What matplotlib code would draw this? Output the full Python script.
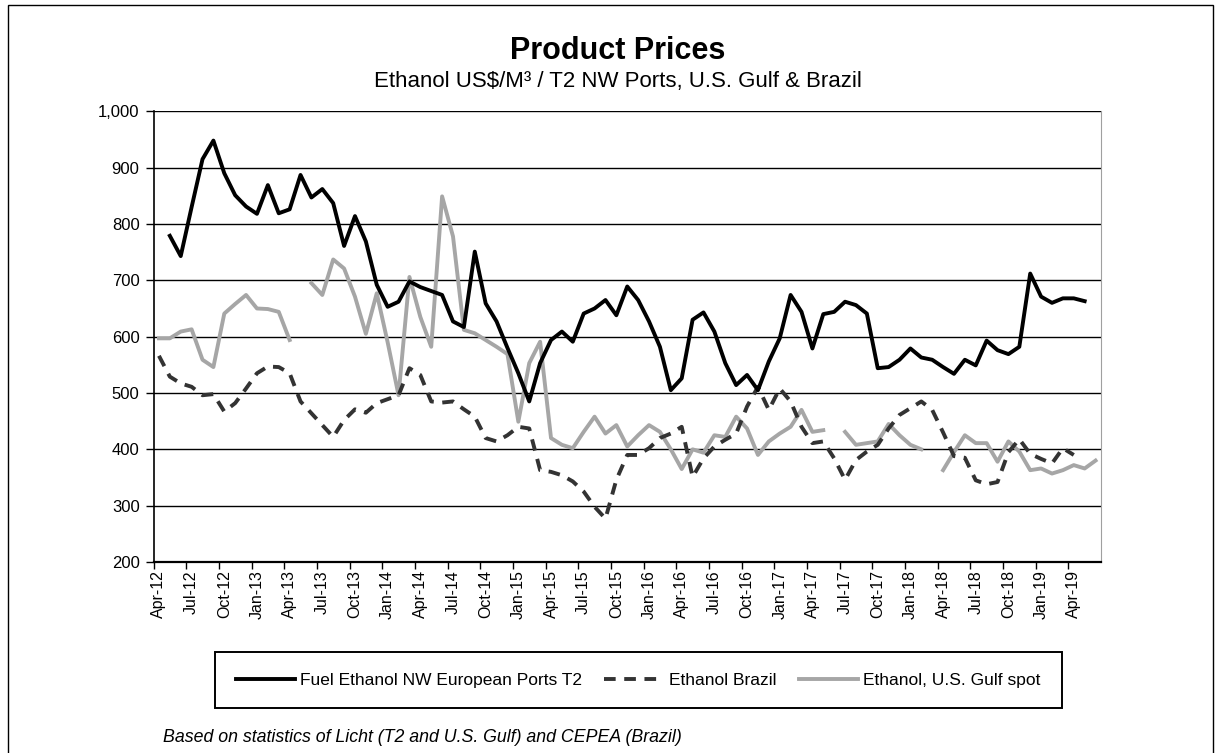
import matplotlib
matplotlib.use("Agg")
import matplotlib.pyplot as plt
from matplotlib.patches import Rectangle
from matplotlib.lines import Line2D
import numpy as np

plt.rcParams["font.family"] = ["Liberation Sans", "DejaVu Sans"]

nan = np.nan

# monthly prices Apr-12 .. Jun-19, US$/m3
nw_europe_t2 = [nan, 779, 743, 830, 915, 948, 890, 851, 831, 818, 869, 819,
                826, 887, 847, 862, 837, 761, 814, 769, 692, 653, 662, 698,
                688, 681, 674, 627, 617, 751, 659, 627, 580, 535, 485, 553,
                594, 609, 591, 641, 650, 665, 638, 689, 665, 627, 582, 505,
                526, 630, 643, 609, 553, 514, 532, 505, 556, 597, 674, 644,
                579, 640, 644, 662, 656, 641, 544, 546, 559, 579, 563, 559,
                546, 534, 559, 549, 593, 576, 569, 582, 712, 671, 660, 668,
                668, 663, nan]

brazil = [566, 529, 517, 511, 496, 498, 467, 482, 508, 535, 547, 546,
          535, 485, 464, 443, 422, 452, 471, 465, 482, 489, 496, 544,
          532, 485, 483, 485, 471, 458, 420, 414, 425, 440, 437, 363,
          360, 354, 343, 325, 298, 277, 346, 390, 390, 402, 420, 428,
          440, 351, 384, 405, 417, 428, 476, 511, 470, 508, 485, 440,
          411, 414, 384, 346, 381, 396, 408, 437, 461, 473, 485, 470,
          430, 388, 385, 345, 338, 342, 395, 418, 392, 383, 375, 402,
          390, nan, nan]

us_gulf = [597, 597, 609, 613, 559, 546, 641, 658, 674, 650, 649, 644,
           594, nan, 695, 674, 737, 721, 671, 605, 677, 590, 496, 706,
           635, 582, 849, 778, 612, 606, 594, 582, 569, 449, 553, 591,
           420, 408, 402, 431, 458, 428, 443, 405, 425, 443, 431, 400,
           365, 400, 394, 425, 422, 458, 437, 390, 414, 428, 440, 470,
           431, 434, nan, 431, 408, 411, 414, 445, 425, 408, 400, nan,
           363, 395, 425, 411, 411, 378, 414, 396, 363, 366, 357, 363,
           372, 366, 380]

tick_labels = ["Apr-12", "Jul-12", "Oct-12", "Jan-13", "Apr-13", "Jul-13",
               "Oct-13", "Jan-14", "Apr-14", "Jul-14", "Oct-14", "Jan-15",
               "Apr-15", "Jul-15", "Oct-15", "Jan-16", "Apr-16", "Jul-16",
               "Oct-16", "Jan-17", "Apr-17", "Jul-17", "Oct-17", "Jan-18",
               "Apr-18", "Jul-18", "Oct-18", "Jan-19", "Apr-19"]

series_names = ["Fuel Ethanol NW European Ports T2", "Ethanol Brazil",
                "Ethanol, U.S. Gulf spot"]

W, H = 1221, 753
fig = plt.figure(figsize=(W / 100, H / 100), dpi=100)
ax = fig.add_axes([153.5 / W, 1 - 562 / H, (1101 - 153.5) / W, (562 - 111.3) / H])

x = np.arange(len(nw_europe_t2))
lw = 2.8
ax.plot(x, us_gulf, color="#a6a6a6", lw=lw, solid_joinstyle="round")
ax.plot(x, brazil, color="#333333", lw=lw, dashes=(3.0, 2.2))
ax.plot(x, nw_europe_t2, color="black", lw=lw, solid_joinstyle="round")

ax.set_xlim(-0.5, 86.5)
ax.set_ylim(200, 1000)
ax.set_yticks(range(200, 1001, 100))
ax.set_yticklabels([f"{v:,}" for v in range(200, 1001, 100)], fontsize=12)
ax.yaxis.grid(True, color="black", lw=1.0)
ax.set_axisbelow(True)

ax.set_xticks(np.arange(-0.5, 84, 3))
ax.set_xticklabels([])
ax.set_xticks(np.arange(0, 85, 3), minor=True)
ax.set_xticklabels(tick_labels, minor=True, rotation=90, fontsize=11.5)
ax.tick_params(axis="x", which="minor", length=0, pad=6)
ax.tick_params(axis="x", which="major", length=5, width=1, direction="out")
ax.tick_params(axis="y", length=6, width=1, direction="out", pad=4)

ax.spines["top"].set_visible(False)
ax.spines["right"].set_color("#a0a0a0")
ax.spines["left"].set_linewidth(1.2)
ax.spines["bottom"].set_linewidth(1.6)

fig.text(618 / W, 1 - 51 / H, "Product Prices", ha="center", va="center",
         fontsize=22, weight="bold")
fig.text(618 / W, 1 - 82 / H, "Ethanol US\\$/M³ / T2 NW Ports, U.S. Gulf & Brazil",
         ha="center", va="center", fontsize=16)

handles = [Line2D([], [], color="black", lw=lw),
           Line2D([], [], color="#333333", lw=lw, dashes=(3.0, 2.2)),
           Line2D([], [], color="#a6a6a6", lw=lw)]
fig.legend(handles, series_names, loc="center", bbox_to_anchor=(638 / W, 1 - 680 / H),
           ncol=3, frameon=False, handlelength=3.4, handletextpad=0.3,
           columnspacing=1.3, fontsize=12.5)
fig.add_artist(Rectangle((215 / W, 1 - 708 / H), 847 / W, 56 / H, transform=fig.transFigure,
                         fill=False, edgecolor="black", lw=1.4))

fig.text(163 / W, 1 - 737 / H,
         "Based on statistics of Licht (T2 and U.S. Gulf) and CEPEA (Brazil)",
         ha="left", va="center", fontsize=12.8, style="italic")

# chart area border
fig.add_artist(Rectangle((8 / W, -0.05), (1213 - 8) / W, 1.05 - 5 / H,
                         transform=fig.transFigure, fill=False, edgecolor="black", lw=1))

fig.savefig("out.png", dpi=100)
